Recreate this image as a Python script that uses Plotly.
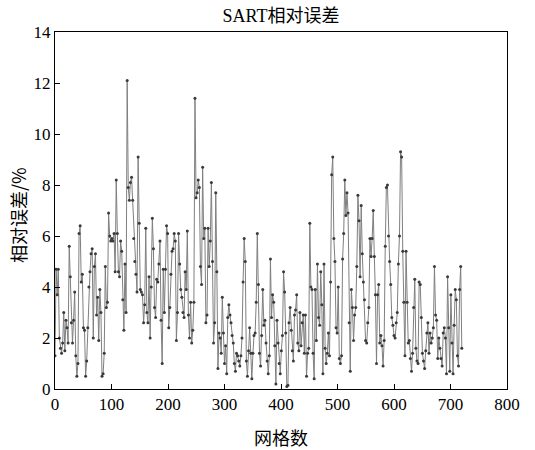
import numpy as np
import plotly.graph_objects as go

err_a = [1.3, 4.7, 3.7, 4.7, 2.0, 1.6, 1.4, 1.8, 3.0, 1.5, 2.7, 2.4, 1.8, 5.6, 4.4, 2.6, 1.8, 2.7, 3.8, 1.3,
         0.5, 1.0, 6.1, 6.4, 4.2, 4.5, 2.4, 2.3, 0.5, 1.1, 2.4, 4.0, 4.6, 5.3, 5.5, 2.0, 4.8, 5.3, 2.9, 3.6,
         1.9, 3.9, 3.0, 0.5, 0.6, 1.4, 4.8, 3.2, 3.4, 6.9, 6.0, 5.8, 5.9, 5.8, 6.1, 4.6, 8.2]
err_b = [6.1, 4.6, 4.4, 5.8, 5.4, 3.5, 2.3, 4.9, 3.0, 12.1, 7.9, 7.4, 8.1, 8.3, 7.4, 5.9, 5.0, 4.5, 3.8, 9.1,
         6.5, 3.9, 3.8, 3.7, 2.6, 3.3, 6.3, 3.0, 2.6, 4.4, 2.0, 4.0, 6.7, 5.5, 3.2, 2.8, 4.3, 4.2, 4.9, 5.8,
         2.7, 1.0, 4.7, 3.0, 4.7, 6.4, 6.1, 2.4, 3.2, 4.5, 5.4, 5.5, 6.1, 5.8, 1.9, 3.0, 6.1, 4.9, 3.9, 3.6,
         3.0, 2.8]
err_c = [4.6, 3.9, 6.2, 2.9, 2.0, 3.4, 1.8, 2.3, 3.4, 11.4, 7.5, 7.7, 8.2, 7.9, 4.8, 4.1, 8.7, 5.9, 6.3, 2.6,
         2.9, 6.3, 4.8, 5.8, 8.1, 5.0, 1.8, 2.6, 7.7, 4.6, 0.8, 2.2, 2.0, 1.4, 3.6, 2.2, 1.0, 1.7, 0.6, 2.8,
         3.3, 2.9, 2.6, 2.1, 1.8, 1.0, 0.7, 1.4, 1.3, 1.1, 0.9, 1.3, 2.0, 4.2, 5.9, 5.0, 1.1, 0.5, 1.5]
err_d = [2.4, 1.4, 0.4, 1.4, 2.1, 2.2, 3.4, 6.1, 4.1, 1.4, 0.9, 2.1, 3.9, 2.5, 2.7, 1.8, 1.1, 0.6, 1.3, 5.1,
         2.8, 3.7, 3.4, 1.7, 0.2, 2.7, 1.8, 1.0, 0.6, 1.5, 2.1, 4.6, 3.8, 2.2, 0.1, 0.15, 2.6, 3.2, 2.3, 1.5,
         1.1, 2.9, 3.1, 3.7, 1.8, 1.5, 3.0, 1.7, 2.6, 2.9, 1.4, 2.9, 0.5, 1.4, 1.6, 6.5, 4.0, 3.9, 1.4, 0.4]
err_e = [3.9, 1.9, 4.9, 2.8, 2.5, 4.6, 3.3, 0.6, 4.9, 1.6, 1.0, 1.4, 2.2, 1.3, 4.2, 8.4, 9.1, 5.9, 5.0, 2.4,
         2.2, 4.0, 1.2, 1.0, 1.3, 5.1, 6.1, 8.2, 6.8, 7.7, 6.9, 2.6, 0.7, 3.9, 3.2, 1.9, 2.9, 3.2, 4.8, 7.6,
         6.6, 4.4, 7.2, 5.3, 4.2, 3.5, 1.9, 1.8, 2.6, 3.2, 5.9, 5.2, 5.9, 7.0, 5.2, 3.7, 1.0, 3.7, 4.1, 1.8,
         2.1]
err_f = [1.7, 0.9, 1.9, 5.6, 7.9, 8.0, 6.0, 5.0, 4.1, 2.8, 2.5, 2.1, 2.0, 2.6, 3.0, 4.9, 6.0, 9.3, 9.1, 5.4,
         3.4, 1.3, 5.4, 3.4, 1.8, 1.9, 1.2, 0.7, 1.4, 3.2, 4.3, 1.6, 1.1, 1.0, 4.2, 4.1, 2.8, 1.4, 1.1, 0.8,
         1.5, 2.2, 2.6, 1.4, 2.2, 1.8, 2.0, 2.4, 4.8, 2.9, 2.7, 1.2, 2.0, 1.6, 1.2, 0.9, 2.2, 2.4, 2.0, 0.6,
         4.4, 2.4, 0.7, 3.7, 1.8, 0.6, 2.5, 3.9, 3.5, 1.3, 0.9, 3.9, 4.8, 1.6]

err = err_a + err_b + err_c + err_d + err_e + err_f
grid_max = 720
x = np.linspace(0, grid_max, len(err))

x_ticks = [0, 100, 200, 300, 400, 500, 600, 700, 800]
y_ticks = [0, 2, 4, 6, 8, 10, 12, 14]

serif = "Liberation Serif, Noto Sans CJK SC, serif"
cjk = "Noto Sans CJK SC"

fig = go.Figure()
fig.add_trace(go.Scatter(
    x=x, y=err, mode="lines+markers",
    line=dict(color="#7f7f7f", width=1),
    marker=dict(color="#3a3a3a", size=3),
    showlegend=False,
))

fig.update_layout(
    width=535, height=450,
    margin=dict(l=55, r=28, t=32, b=61, autoexpand=False),
    paper_bgcolor="white", plot_bgcolor="white",
    title=dict(text="SART相对误差", x=0.5, xref="paper", xanchor="center",
               y=0.965, yref="container", yanchor="middle",
               font=dict(family=serif, size=18, color="black")),
    font=dict(family=serif, size=17, color="black"),
    annotations=[
        dict(text="网格数", xref="paper", yref="paper", x=0.5, y=-0.134,
             xanchor="center", yanchor="middle", showarrow=False,
             font=dict(family=cjk, size=18, color="black")),
        dict(text="相对误差/%", xref="paper", yref="paper", x=-0.082, y=0.487,
             xanchor="center", yanchor="middle", showarrow=False, textangle=-90,
             font=dict(family=cjk, size=18, color="black")),
    ],
)
fig.update_xaxes(
    range=[0, 800], tickvals=x_ticks, ticktext=[str(v) for v in x_ticks],
    ticks="inside", ticklen=5, tickcolor="black",
    showline=True, linecolor="black", linewidth=1, mirror=True,
    showgrid=False, zeroline=False, automargin=False,
    tickfont=dict(family=serif, size=17),
)
fig.update_yaxes(
    range=[0, 14], tickvals=y_ticks, ticktext=[str(v) for v in y_ticks],
    ticks="inside", ticklen=5, tickcolor="black",
    showline=True, linecolor="black", linewidth=1, mirror=True,
    showgrid=False, zeroline=False, automargin=False,
    tickfont=dict(family=serif, size=17),
)

fig.write_html("out.html")
